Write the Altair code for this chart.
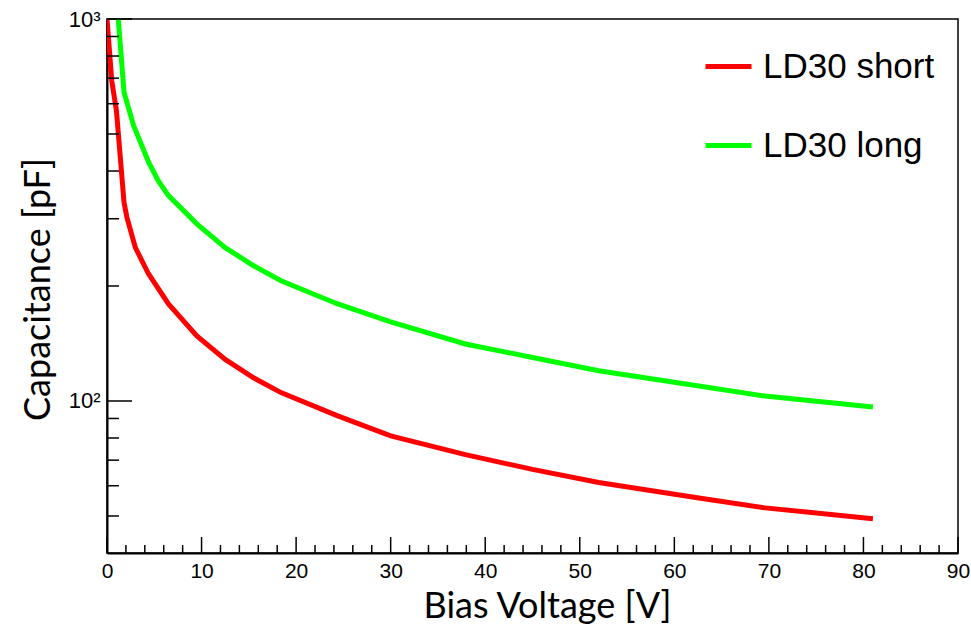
import altair as alt
import pandas as pd

# ---- data ----
short_v = [0, 0.5, 1.0, 1.8, 2.1, 3.0, 4.4, 6.5, 9.5, 12.5, 15.5, 18.4, 24.4, 30, 37.9, 45, 52, 62.6, 69.6, 81]
short_c = [1000, 690, 575, 331, 303, 252, 215, 179.5, 148, 128.5, 115, 105.2, 91.4, 81, 72.4, 66.2, 61.2, 55.7, 52.5, 49.2]
long_v = [1.0, 1.8, 2.8, 4.4, 5.4, 6.5, 9.5, 12.5, 15.5, 18.4, 24.4, 30, 37.9, 45, 52, 62.6, 69.6, 81]
long_c = [1150, 643, 527, 422, 378, 345, 291, 252, 226, 206.5, 179.5, 161, 141, 130, 120, 109.5, 103, 96.4]
series = ["LD30 short", "LD30 long"]
colors = ["#ff0000", "#00ff00"]

x_major = [0, 10, 20, 30, 40, 50, 60, 70, 80, 90]
x_minor = [v for v in range(2, 90, 2) if v % 10 != 0]
y_major = [100, 1000]
y_minor = [50, 60, 70, 80, 90, 200, 300, 400, 500, 600, 700, 800, 900]

df = pd.concat([
    pd.DataFrame({"V": short_v, "C": short_c, "s": series[0], "o": range(len(short_v))}),
    pd.DataFrame({"V": long_v, "C": long_c, "s": series[1], "o": range(len(long_v))}),
])

W, H = 851, 534
FONT = "Liberation Sans"
TFONT = "Lato"

xscale = alt.Scale(domain=[0, 90], nice=False, zero=False)
yscale = alt.Scale(type="log", domain=[40, 1000], nice=False)

lines = alt.Chart(df).mark_line(strokeWidth=5, clip=True, strokeJoin="miter").encode(
    x=alt.X("V:Q", scale=xscale,
            axis=alt.Axis(values=x_major, tickSize=0, labelFontSize=21, labelFont=FONT,
                          labelColor="black", labelPadding=7, labelFlush=False,
                          domainColor="black",
                          domainWidth=2, grid=False, title="Bias Voltage [V]",
                          titleFont=TFONT, titleFontSize=36, titleFontWeight="normal",
                          titleColor="black", titleX=440, titleY=64,
                          titleAlign="center", titleBaseline="alphabetic")),
    y=alt.Y("C:Q", scale=yscale,
            axis=alt.Axis(values=y_major, tickSize=0, labelFontSize=22, labelFont=FONT,
                          labelColor="black", labelPadding=7, labelFlush=False,
                          labelBaseline="middle", domainColor="black",
                          domainWidth=2, grid=False,
                          labelExpr="datum.value >= 1000 ? '10³' : '10²'",
                          title="Capacitance [pF]", titleFont=TFONT, titleFontSize=36,
                          titleFontWeight="normal", titleColor="black",
                          titleX=-69, titleY=270, titleAngle=270,
                          titleAlign="center", titleBaseline="middle")),
    color=alt.Color("s:N", scale=alt.Scale(domain=series, range=colors),
                    legend=alt.Legend(orient="none", legendX=596, legendY=22, title=None,
                                      symbolType="stroke", symbolStrokeWidth=5,
                                      symbolSize=2116, labelFontSize=35, labelFont=FONT,
                                      labelColor="black", labelOffset=9, rowPadding=35,
                                      labelLimit=500, padding=0)),
    order="o:Q",
)

xmaj = alt.Chart(pd.DataFrame({"t": x_major})).mark_rule(color="black", strokeWidth=1.5).encode(
    x=alt.X("t:Q"), y=alt.value(H), y2=alt.value(H - 16))
xmin = alt.Chart(pd.DataFrame({"t": x_minor})).mark_rule(color="black", strokeWidth=1.5).encode(
    x=alt.X("t:Q"), y=alt.value(H), y2=alt.value(H - 8))
ymaj = alt.Chart(pd.DataFrame({"t": y_major})).mark_rule(color="black", strokeWidth=1.5).encode(
    y=alt.Y("t:Q"), x=alt.value(0), x2=alt.value(25))
ymin = alt.Chart(pd.DataFrame({"t": y_minor})).mark_rule(color="black", strokeWidth=1.5).encode(
    y=alt.Y("t:Q"), x=alt.value(0), x2=alt.value(12))

chart = alt.layer(lines, xmaj, xmin, ymaj, ymin).properties(
    width=W, height=H,
    autosize=alt.AutoSizeParams(type="none"),
    padding={"left": 107, "top": 19, "right": 13, "bottom": 75},
    background="white",
).configure_view(stroke="black", strokeWidth=1.5)

chart.save("out.html", embed_options={"renderer": "svg", "actions": False})
